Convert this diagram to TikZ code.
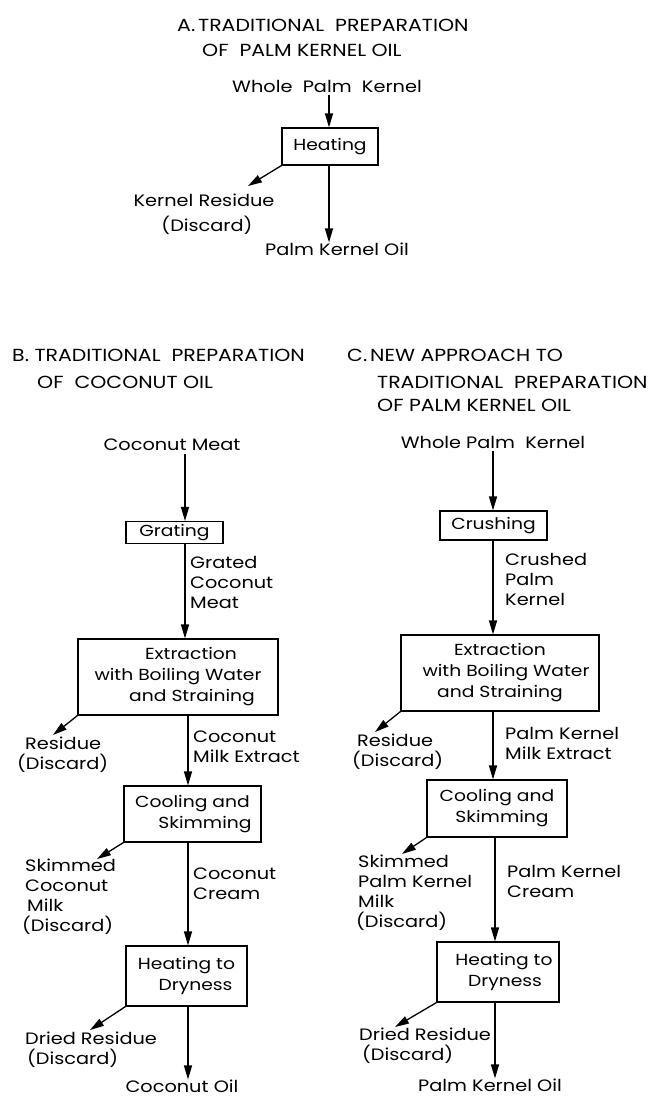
\documentclass[tikz,border=0pt]{standalone}
\usepackage{fontspec}
\setmainfont[FakeStretch=1.17]{Poppins}
\usetikzlibrary{arrows.meta}
\begin{document}
\begin{tikzpicture}[x=1pt,y=-1pt,
  every node/.style={font=\fontsize{16.5}{20}\selectfont, inner sep=0pt},
  box/.style 2 args={draw, line width=1.1pt, minimum width=#1, minimum height=#2, align=center, font=\fontsize{16}{21}\selectfont},
  ttl/.style={anchor=west, font=\fontsize{17.5}{20}\selectfont},
  lbl/.style={anchor=west, align=left},
  flow/.style={line width=1.3pt, -{Triangle[length=14pt,width=8pt]}},
  fromtext/.style={shorten <=3pt}]
\fill[white] (0,0) rectangle (654,1098);
\useasboundingbox (0,0) rectangle (654,1098);

% ---------- A ----------
\node[ttl] (tA1) at (177,25) {A.\,TRADITIONAL\ \ PREPARATION};
\node[ttl] (tA2) at (202,50) {OF\ \ PALM KERNEL OIL};
\node (wpkA) at (327,86) {Whole\ \ Palm\ \ Kernel};
\node[box={96}{37}] (heatA) at (330,146.5) {Heating};
\node (krA) at (204,200) {Kernel\ Residue};
\node (krdA) at (207,225) {(Discard)};
\node (pkoA) at (337,249) {Palm Kernel Oil};
\coordinate (axA) at (329,0);
\coordinate (krtip) at (248,186);
\draw[flow, fromtext] (wpkA.south -| axA) -- (heatA.north -| axA);
\draw[flow] (heatA.south west) -- (krtip);
\draw[flow] (heatA.south -| axA) -- (pkoA.north -| axA);

% ---------- B ----------
\node[ttl] (tB1) at (12,355) {B.\ TRADITIONAL\ \ PREPARATION};
\node[ttl] (tB2) at (37,382) {OF\ \ COCONUT OIL};
\node (cmB) at (172,445) {Coconut Meat};
\node[box={97}{22}] (grate) at (174.5,532.5) {Grating};
\node[lbl] (gcm) at (190,582) {Grated\\Coconut\\Meat};
\node[box={200}{76}] (extB) at (178,677) {\hspace*{26pt}Extraction\\with Boiling Water\\\hspace*{28pt}and Straining};
\node[lbl] (resB) at (17,755) {\hspace*{8pt}Residue\\(Discard)};
\node[lbl] (cmeB) at (193,747) {Coconut\\Milk Extract};
\node[box={137}{56}] (coolB) at (192.5,814) {Cooling and\\\hspace*{25pt}Skimming};
\node[lbl] (skB) at (22,897) {\hspace*{3pt}Skimmed\\\hspace*{3pt}Coconut\\\hspace*{5pt}Milk\\(Discard)};
\node[lbl] (ccB) at (193,884) {Coconut\\Cream};
\node[box={121}{60}] (heatB) at (186.5,976) {Heating to\\\hspace*{18pt}Dryness};
\node[lbl] (drB) at (25,1050) {Dried Residue\\\hspace*{2pt}(Discard)};
\node (coB) at (182,1086) {Coconut Oil};
\coordinate (axB) at (185,0);
\coordinate (axBb) at (188,0);
\coordinate (resBtip) at (53,735);
\coordinate (skBtip) at (97,859);
\coordinate (drBtip) at (90,1030);
\draw[flow, fromtext] (cmB.south -| axB) -- (grate.north -| axB);
\draw[flow] (grate.south -| axB) -- (extB.north -| axB);
\draw[flow] (extB.south west) -- (resBtip);
\draw[flow] (extB.south -| axBb) -- (coolB.north -| axBb);
\draw[flow] (coolB.south west) -- (skBtip);
\draw[flow] (coolB.south -| axBb) -- (heatB.north -| axBb);
\draw[flow] (heatB.south west) -- (drBtip);
\draw[flow] (heatB.south -| axBb) -- (coB.north -| axBb);

% ---------- C ----------
\node[ttl] (tC1) at (347,355) {C.\,NEW APPROACH TO};
\node[ttl] (tC2) at (377,382) {TRADITIONAL\ \ PREPARATION};
\node[ttl] (tC3) at (377,405) {OF PALM KERNEL OIL};
\node (wpkC) at (493,442) {Whole Palm\ \ Kernel};
\node[box={107}{29}] (crush) at (493.5,525.5) {Crushing};
\node[lbl] (cpk) at (505,579) {Crushed\\Palm\\Kernel};
\node[box={198}{76}] (extC) at (500,673) {Extraction\\\hspace*{12pt}with Boiling Water\\and Straining};
\node[lbl] (resC) at (352,752) {\hspace*{5pt}Residue\\(Discard)};
\node[lbl] (pkme) at (505,743) {Palm Kernel\\Milk Extract};
\node[box={140}{57}] (coolC) at (497,808.5) {Cooling and\\\hspace*{10pt}Skimming};
\node[lbl] (skC) at (356,893) {\hspace*{2pt}Skimmed\\\hspace*{2pt}Palm Kernel\\\hspace*{2pt}Milk\\(Discard)};
\node[lbl] (pkc) at (507,881) {Palm Kernel\\Cream};
\node[box={122}{60}] (heatC) at (498,972) {\hspace*{12pt}Heating to\\\hspace*{14pt}Dryness};
\node[lbl] (drC) at (359,1046) {Dried Residue\\\hspace*{3pt}(Discard)};
\node (pkoC) at (490,1085) {Palm Kernel Oil};
\coordinate (axC) at (493,0);
\coordinate (axCb) at (495,0);
\coordinate (resCtip) at (375,732);
\coordinate (skCtip) at (402,854);
\coordinate (drCtip) at (395,1027);
\draw[flow, fromtext] (wpkC.south -| axC) -- (crush.north -| axC);
\draw[flow] (crush.south -| axC) -- (extC.north -| axC);
\draw[flow] (extC.south west) -- (resCtip);
\draw[flow] (extC.south -| axC) -- (coolC.north -| axC);
\draw[flow] (coolC.south west) -- (skCtip);
\draw[flow] (coolC.south -| axCb) -- (heatC.north -| axCb);
\draw[flow] (heatC.south west) -- (drCtip);
\draw[flow] (heatC.south -| axCb) -- (pkoC.north -| axCb);
\end{tikzpicture}
\end{document}
